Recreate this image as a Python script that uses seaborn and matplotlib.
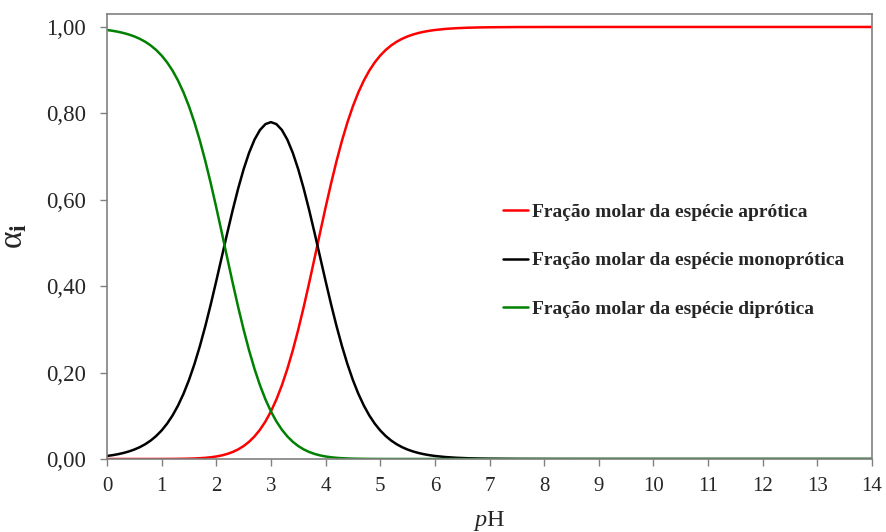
import numpy as np
import pandas as pd
import seaborn as sns
import matplotlib
matplotlib.use("Agg")
import matplotlib.pyplot as plt

# pH sampling and molar fractions
ph = [0.0, 0.1, 0.2, 0.3, 0.4, 0.5, 0.6, 0.7, 0.8, 0.9,
      1.0, 1.1, 1.2, 1.3, 1.4, 1.5, 1.6, 1.7, 1.8, 1.9,
      2.0, 2.1, 2.2, 2.3, 2.4, 2.5, 2.6, 2.7, 2.8, 2.9,
      3.0, 3.1, 3.2, 3.3, 3.4, 3.5, 3.6, 3.7, 3.8, 3.9,
      4.0, 4.1, 4.2, 4.3, 4.4, 4.5, 4.6, 4.7, 4.8, 4.9,
      5.0, 5.1, 5.2, 5.3, 5.4, 5.5, 5.6, 5.7, 5.8, 5.9,
      6.0, 6.2, 6.4, 6.6, 6.8, 7.0, 7.5, 8.0, 9.0, 10.0, 12.0, 14.0]
aprotica = [0.00000, 0.00000, 0.00000, 0.00000, 0.00001, 0.00001, 0.00002, 0.00002, 0.00004, 0.00006,
            0.00009, 0.00015, 0.00023, 0.00035, 0.00054, 0.00082, 0.00124, 0.00185, 0.00274, 0.00402,
            0.00582, 0.00831, 0.01170, 0.01623, 0.02221, 0.02995, 0.03985, 0.05234, 0.06788, 0.08698,
            0.11014, 0.13785, 0.17050, 0.20836, 0.25145, 0.29952, 0.35194, 0.40777, 0.46574, 0.52436,
            0.58209, 0.63749, 0.68934, 0.73674, 0.77917, 0.81641, 0.84857, 0.87592, 0.89891, 0.91803,
            0.93380, 0.94670, 0.95720, 0.96571, 0.97257, 0.97809, 0.98252, 0.98607, 0.98890, 0.99116,
            0.99297, 0.99555, 0.99719, 0.99822, 0.99888, 0.99929, 0.99978, 0.99993, 0.99999, 1.00000, 1.00000, 1.00000]
monoprotica = [0.00703, 0.00883, 0.01110, 0.01393, 0.01747, 0.02190, 0.02741, 0.03426, 0.04276, 0.05324,
               0.06611, 0.08182, 0.10086, 0.12373, 0.15090, 0.18277, 0.21960, 0.26141, 0.30792, 0.35849,
               0.41209, 0.46733, 0.52257, 0.57599, 0.62585, 0.67053, 0.70869, 0.73930, 0.76162, 0.77518,
               0.77972, 0.77518, 0.76162, 0.73930, 0.70869, 0.67053, 0.62585, 0.57599, 0.52257, 0.46733,
               0.41209, 0.35849, 0.30792, 0.26141, 0.21960, 0.18277, 0.15090, 0.12373, 0.10086, 0.08182,
               0.06611, 0.05324, 0.04276, 0.03426, 0.02741, 0.02190, 0.01747, 0.01393, 0.01110, 0.00883,
               0.00703, 0.00445, 0.00281, 0.00178, 0.00112, 0.00071, 0.00022, 0.00007, 0.00001, 0.00000, 0.00000, 0.00000]
diprotica = [0.99297, 0.99116, 0.98890, 0.98607, 0.98252, 0.97809, 0.97257, 0.96571, 0.95720, 0.94670,
             0.93380, 0.91803, 0.89891, 0.87592, 0.84857, 0.81641, 0.77917, 0.73674, 0.68934, 0.63749,
             0.58209, 0.52436, 0.46574, 0.40777, 0.35194, 0.29952, 0.25145, 0.20836, 0.17050, 0.13785,
             0.11014, 0.08698, 0.06788, 0.05234, 0.03985, 0.02995, 0.02221, 0.01623, 0.01170, 0.00831,
             0.00582, 0.00402, 0.00274, 0.00185, 0.00124, 0.00082, 0.00054, 0.00035, 0.00023, 0.00015,
             0.00009, 0.00006, 0.00004, 0.00002, 0.00002, 0.00001, 0.00001, 0.00000, 0.00000, 0.00000,
             0.00000, 0.00000, 0.00000, 0.00000, 0.00000, 0.00000, 0.00000, 0.00000, 0.00000, 0.00000, 0.00000, 0.00000]

labels = ["Fração molar da espécie aprótica",
          "Fração molar da espécie monoprótica",
          "Fração molar da espécie diprótica"]
colors = ["#ff0000", "#000000", "#008000"]
xticks = list(range(0, 15))
yticks = [0.0, 0.2, 0.4, 0.6, 0.8, 1.0]
yticklabels = ["0,00", "0,20", "0,40", "0,60", "0,80", "1,00"]

sns.set_theme(style="white")
plt.rcParams["font.family"] = ["Liberation Serif", "DejaVu Serif"]
plt.rcParams["mathtext.fontset"] = "custom"
plt.rcParams["mathtext.rm"] = "Liberation Serif"
plt.rcParams["mathtext.it"] = "Liberation Serif:italic"
plt.rcParams["mathtext.bf"] = "Liberation Serif:bold"

df = pd.DataFrame({
    "pH": ph * 3,
    "alpha": aprotica + monoprotica + diprotica,
    "serie": [labels[0]] * len(ph) + [labels[1]] * len(ph) + [labels[2]] * len(ph),
})

fig = plt.figure(figsize=(8.86, 5.32), dpi=100)
ax = fig.add_axes([107 / 886, 1 - 459 / 532, (872 - 107) / 886, (459 - 14) / 532])
sns.lineplot(data=df, x="pH", y="alpha", hue="serie", palette=colors,
             hue_order=labels, ax=ax, linewidth=1.8, legend=True)

ax.set_xlim(0, 14)
ax.set_ylim(0, 1.03)
ax.set_xticks(xticks)
ax.set_xticklabels([str(t) for t in xticks])
ax.set_yticks(yticks)
ax.set_yticklabels(yticklabels)
ax.tick_params(axis="both", which="both", direction="out", length=5, width=1,
               color="#808080", bottom=True, left=True)
ax.tick_params(axis="x", labelsize=15, pad=8)
ax.tick_params(axis="y", labelsize=16.5, pad=10)
for s in ax.spines.values():
    s.set_color("#808080")
    s.set_linewidth(1.2)
    s.set_visible(True)

ax.set_xlabel(r"$\mathit{p}$H", fontsize=17.5, labelpad=9)
ax.set_ylabel(r"$\mathregular{\alpha}_\mathbf{i}$", fontsize=24, labelpad=12)

leg = ax.legend(loc="upper left", frameon=False,
                prop={"family": "Liberation Serif", "weight": "bold", "size": 14},
                handlelength=1.3, handletextpad=0.2, labelspacing=1.6,
                borderaxespad=0, borderpad=0)
leg.set_bbox_to_anchor((503 / 886, 1 - 203 / 532), transform=fig.transFigure)

fig.savefig("out.png", dpi=100)
